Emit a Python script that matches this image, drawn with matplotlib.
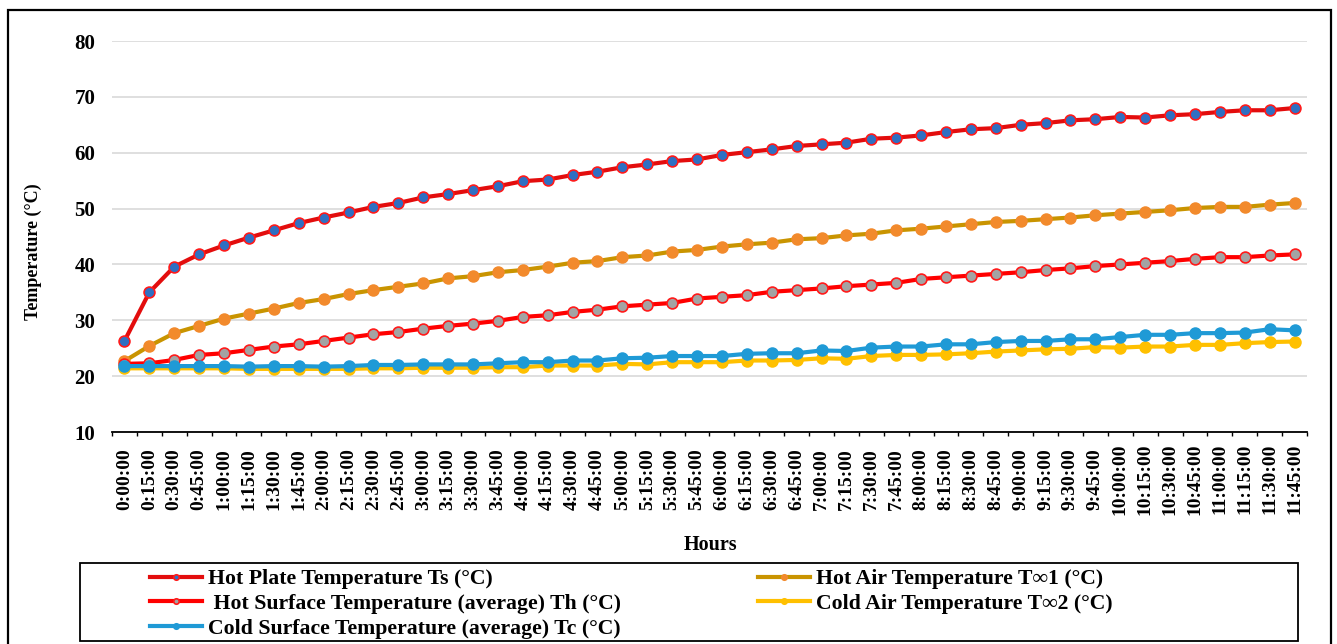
import matplotlib
matplotlib.use("Agg")
import matplotlib.pyplot as plt
from matplotlib.patches import Rectangle

plt.rcParams['font.family'] = ['Liberation Serif', 'DejaVu Serif']
plt.rcParams['font.weight'] = 'bold'

# sampling every 15 minutes, 0:00:00 .. 11:45:00
hours = [f"{m // 60}:{m % 60:02d}:00" for m in range(0, 720, 15)]

hot_plate_ts = [26.3, 35.0, 39.6, 41.8, 43.4, 44.8, 46.1, 47.4, 48.4, 49.3, 50.3, 51.0,
                52.0, 52.6, 53.3, 54.0, 54.9, 55.2, 56.0, 56.6, 57.4, 57.9, 58.5, 58.8,
                59.6, 60.1, 60.6, 61.2, 61.5, 61.8, 62.5, 62.7, 63.1, 63.7, 64.2, 64.4,
                65.0, 65.3, 65.8, 66.0, 66.4, 66.3, 66.7, 66.9, 67.3, 67.6, 67.6, 68.0]
hot_air_t1 = [22.7, 25.4, 27.7, 29.0, 30.3, 31.2, 32.1, 33.1, 33.8, 34.7, 35.4, 36.0,
              36.6, 37.5, 37.9, 38.6, 39.0, 39.6, 40.3, 40.6, 41.3, 41.6, 42.3, 42.6,
              43.2, 43.6, 43.9, 44.5, 44.7, 45.2, 45.5, 46.1, 46.4, 46.8, 47.2, 47.6,
              47.8, 48.1, 48.4, 48.8, 49.1, 49.4, 49.7, 50.1, 50.3, 50.3, 50.7, 51.0]
hot_surface_th = [22.2, 22.3, 22.9, 23.8, 24.1, 24.7, 25.3, 25.7, 26.3, 26.9, 27.5, 27.9,
                  28.5, 29.0, 29.4, 29.9, 30.6, 30.9, 31.5, 31.9, 32.5, 32.8, 33.1, 33.9,
                  34.2, 34.5, 35.1, 35.4, 35.7, 36.1, 36.4, 36.7, 37.4, 37.7, 38.0, 38.3,
                  38.6, 39.0, 39.3, 39.7, 40.0, 40.3, 40.6, 41.0, 41.3, 41.3, 41.6, 41.8]
cold_air_t2 = [21.4, 21.4, 21.4, 21.4, 21.4, 21.3, 21.3, 21.3, 21.3, 21.3, 21.4, 21.4,
               21.5, 21.5, 21.5, 21.6, 21.6, 21.9, 21.9, 21.9, 22.2, 22.1, 22.5, 22.5,
               22.5, 22.8, 22.8, 22.9, 23.2, 23.1, 23.6, 23.8, 23.8, 23.9, 24.1, 24.4,
               24.6, 24.8, 24.9, 25.2, 25.1, 25.3, 25.3, 25.6, 25.6, 25.9, 26.1, 26.2]
cold_surface_tc = [21.8, 21.8, 21.8, 21.8, 21.8, 21.7, 21.8, 21.8, 21.7, 21.8, 22.0, 22.0,
                   22.1, 22.1, 22.1, 22.3, 22.5, 22.5, 22.8, 22.8, 23.2, 23.3, 23.6, 23.6,
                   23.6, 24.0, 24.1, 24.1, 24.6, 24.5, 25.1, 25.3, 25.3, 25.7, 25.7, 26.1,
                   26.3, 26.3, 26.6, 26.6, 27.0, 27.4, 27.4, 27.7, 27.7, 27.8, 28.4, 28.2]

# (values, label, line colour, marker face, marker edge)
series = [
    (hot_plate_ts, 'Hot Plate Temperature Ts (°C)', '#e30d0d', '#2f6fc2', '#ff1a1a'),
    (hot_air_t1, 'Hot Air Temperature T\u221e1 (°C)', '#c99400', '#f28a2c', '#f28a2c'),
    (hot_surface_th, ' Hot Surface Temperature (average) Th (°C)', '#ff0000', '#a3a3a3', '#ff1a1a'),
    (cold_air_t2, 'Cold Air Temperature T\u221e2 (°C)', '#ffc000', '#ffc000', '#ffc000'),
    (cold_surface_tc, 'Cold Surface Temperature (average) Tc (°C)', '#1f9ad6', '#1f9ad6', '#1f9ad6'),
]

W, H = 1337, 644
fig = plt.figure(figsize=(W / 100, H / 100), dpi=100)
ax = fig.add_axes([112 / W, 1 - 432 / H, (1307 - 112) / W, (432 - 41) / H])

x = list(range(len(hours)))
handles = []
for vals, label, lc, mfc, mec in series:
    ln, = ax.plot(x, vals, color=lc, lw=3.0, marker='o', ms=7.8,
                  mfc=mfc, mec=mec, mew=1.2, label=label)
    handles.append(ln)

ax.set_xlim(-0.5, len(hours) - 0.5)
ax.set_ylim(10, 80)
ax.set_yticks(range(10, 81, 10))
ax.grid(axis='y', color='#d9d9d9', lw=1.2)
ax.set_axisbelow(True)
for s in ['left', 'right', 'top']:
    ax.spines[s].set_visible(False)
ax.spines['bottom'].set_color('black')
ax.spines['bottom'].set_linewidth(1.3)
ax.spines['bottom'].set_zorder(5)

ax.tick_params(axis='y', length=0, pad=12, labelsize=15)
ax.set_xticks(x)
ax.set_xticklabels(hours, rotation=90, va='center', ha='center', fontsize=14)
ax.tick_params(axis='x', which='major', length=0, pad=34)
ax.set_xticks([i - 0.5 for i in range(len(hours) + 1)], minor=True)
ax.tick_params(axis='x', which='minor', length=3, width=1, color='black', direction='out')

fig.text(33 / W, 1 - 252 / H, 'Temperature (°C)', rotation=90, ha='center', va='center',
         fontsize=13, fontweight='bold')
fig.text(710 / W, 1 - 545 / H, 'Hours', ha='center', va='center', fontsize=14.5,
         fontweight='bold')

# legend: boxed, two columns
fig.patches.append(Rectangle((80 / W, 1 - 641 / H), (1298 - 80) / W, (641 - 563) / H,
                             transform=fig.transFigure, fill=False, ec='black', lw=1.3))
leg_kw = dict(loc='upper left', frameon=False, fontsize=15.7, borderpad=0, borderaxespad=0,
              handlelength=2.4, handletextpad=0.25, labelspacing=0.2, markerscale=0.5)
fig.legend(handles=[handles[0], handles[2], handles[4]],
           bbox_to_anchor=(150 / W, 1 - 569 / H), **leg_kw)
fig.legend(handles=[handles[1], handles[3]],
           bbox_to_anchor=(758 / W, 1 - 569 / H), **leg_kw)

# outer border
fig.patches.append(Rectangle((8 / W, -0.05), (1331 - 8) / W, 1.05 - 10 / H,
                             transform=fig.transFigure, fill=False, ec='black', lw=1.6))

fig.savefig('out.png', dpi=100)
